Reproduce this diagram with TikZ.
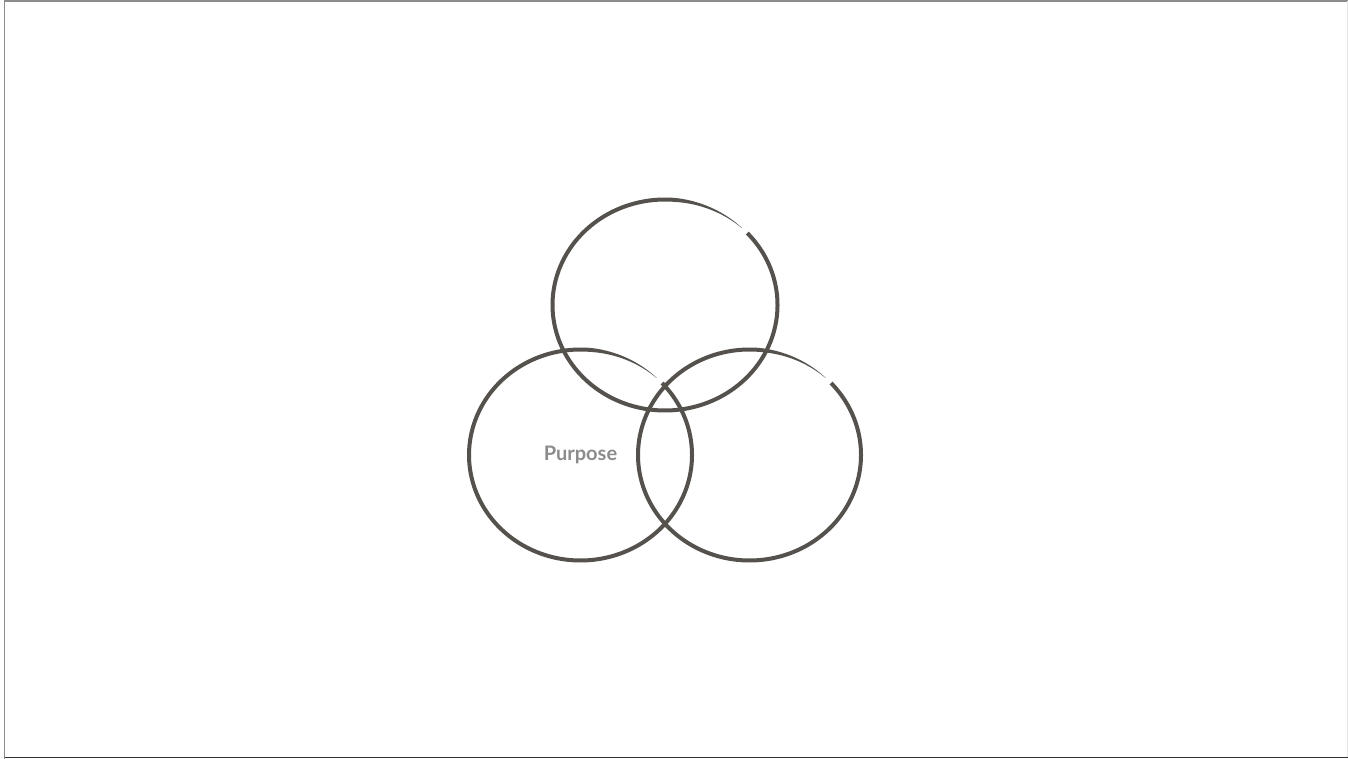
\documentclass[tikz,border=0pt]{standalone}
\usepackage{fontspec}
\setmainfont{Lato}
\definecolor{ink}{HTML}{55524E}
\definecolor{txtgray}{HTML}{8C8C8C}
\newcommand{\brushring}[4]{%
  \fill[ink] plot[domain=0:356,samples=240,smooth]
     ({#1+(#3+0.5*(0.2+3.8*min(1,(356-\x)/38)))*cos(43-\x)},{#2-(#4+0.5*(0.2+3.8*min(1,(356-\x)/38)))*sin(43-\x)})
     -- plot[domain=0:356,samples=240,smooth]
     ({#1+(#3-0.5*(0.2+3.8*min(1,\x/38)))*cos(43-(356-\x))},{#2-(#4-0.5*(0.2+3.8*min(1,\x/38)))*sin(43-(356-\x))})
     -- cycle;}
\begin{document}
\begin{tikzpicture}[x=1pt,y=-1pt,
  label text/.style={text=txtgray,font=\fontsize{20}{22}\selectfont\bfseries}]
\useasboundingbox (0,0) rectangle (1348,759);
\fill[white] (0,0) rectangle (1348,759);
% frame
\draw[gray!90,line width=1.6pt] (4.5,759) -- (4.5,1.2) -- (1348,1.2);
\draw[gray!20,line width=1pt] (1347.3,1.2) -- (1347.3,757);
\draw[black!80,line width=1.6pt] (4.5,757.6) -- (1348,757.6);
% circles
\coordinate (ctop) at (665,305);
\coordinate (cleft) at (580.5,455);
\coordinate (cright) at (749.5,455);
\brushring{665}{305}{112.5}{105.5}
\brushring{580.5}{455}{111.5}{105.5}
\brushring{749.5}{455}{111.5}{105.5}
\node[label text] (purpose) at (580.5,454.5) {Purpose};
\end{tikzpicture}
\end{document}
